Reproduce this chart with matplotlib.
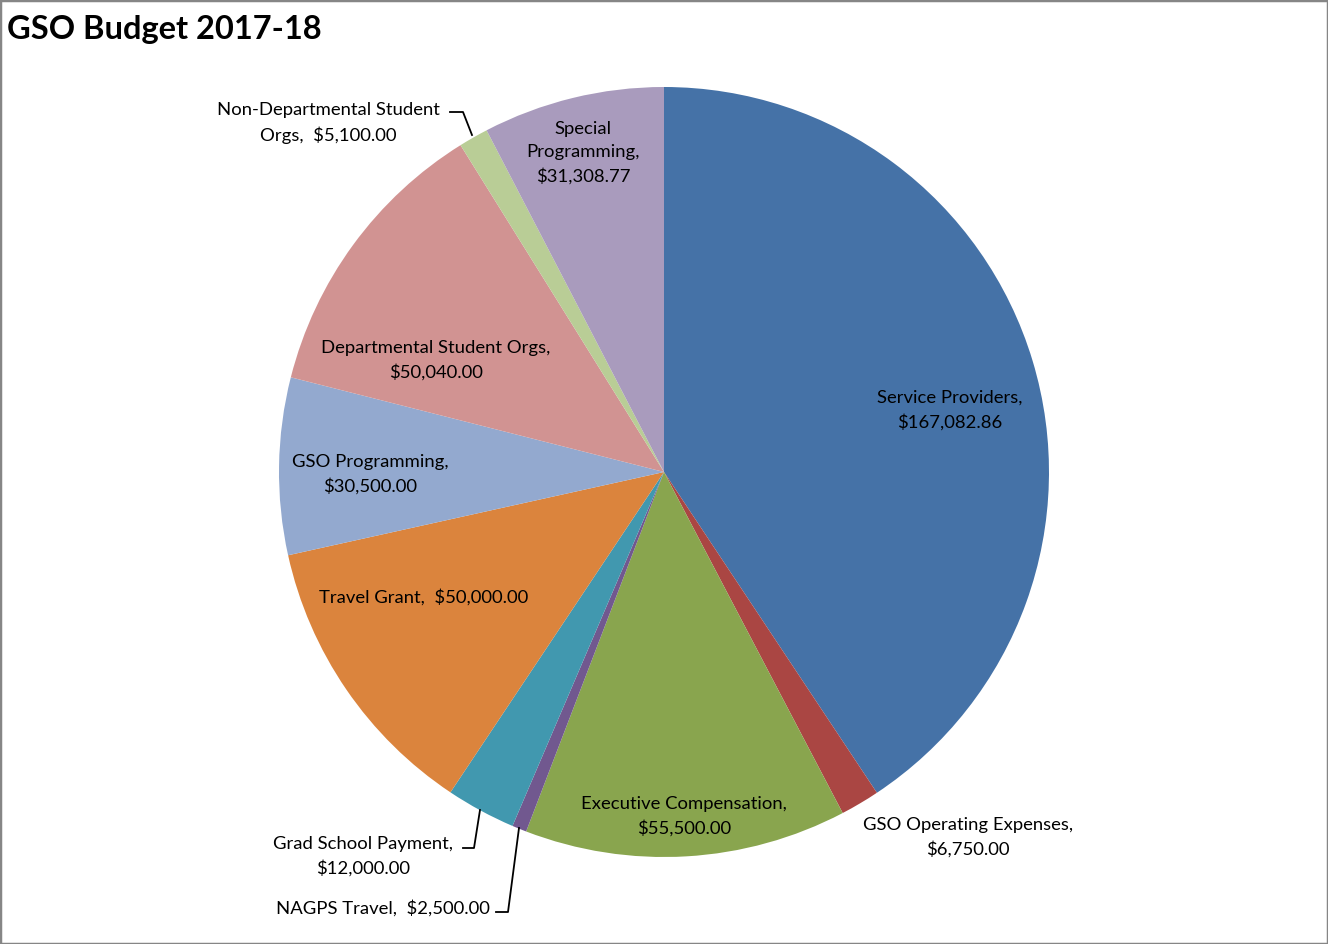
import matplotlib
matplotlib.use("Agg")
import matplotlib.pyplot as plt
from matplotlib.patches import Rectangle

categories = ["Service Providers", "GSO Operating Expenses", "Executive Compensation",
              "NAGPS Travel", "Grad School Payment", "Travel Grant", "GSO Programming",
              "Departmental Student Orgs", "Non-Departmental Student Orgs", "Special Programming"]
values = [167082.86, 6750.00, 55500.00, 2500.00, 12000.00, 50000.00, 30500.00,
          50040.00, 5100.00, 31308.77]
colors = ["#4572A7", "#AA4643", "#89A54E", "#71588F", "#4198AF", "#DB843D",
          "#93A9CF", "#D19392", "#B9CD96", "#A99BBD"]
label_texts = ["Service Providers,\n$167,082.86", "GSO Operating Expenses,\n$6,750.00",
               "Executive Compensation,\n$55,500.00", "NAGPS Travel,  $2,500.00",
               "Grad School Payment,\n$12,000.00", "Travel Grant,  $50,000.00",
               "GSO Programming,\n$30,500.00", "Departmental Student Orgs,\n$50,040.00",
               "Non-Departmental Student\nOrgs,  $5,100.00", "Special\nProgramming,\n$31,308.77"]

W, H = 1328, 944
fig = plt.figure(figsize=(W / 100, H / 100), dpi=100)
ax = fig.add_axes([0, 0, 1, 1])

def py(y):
    return H - y

cx, cy, R = 664, 472, 385
ax.pie(values, colors=colors, startangle=90, counterclock=False,
       center=(cx, py(cy)), radius=R, frame=True,
       wedgeprops=dict(linewidth=0))
ax.set_xlim(0, W)
ax.set_ylim(0, H)
ax.set_aspect("equal")
ax.axis("off")

font = "Lato"
fs = 13.3
ls = 1.55
# label centre positions (pixels)
label_pos = [(950, 410), (968, 837), (684, 816), None, (363, 856), (424, 597),
             (370, 474), (436, 360), (328, 123), (583, 153)]
for txt, pos in zip(label_texts, label_pos):
    if pos is None:
        continue
    ax.text(pos[0], py(pos[1]), txt, ha="center", va="center", fontsize=fs,
            family=font, color="black", linespacing=ls)
# NAGPS label (right aligned) and leader lines
ax.text(490, py(908), label_texts[3], ha="right", va="center", fontsize=fs,
        family=font, color="black")
ax.plot([496, 508, 519], [py(912), py(912), py(828)], color="black", lw=1.3)
ax.plot([463, 474, 480], [py(848), py(848), py(810)], color="black", lw=1.3)
ax.plot([450, 463, 472], [py(112), py(112), py(135)], color="black", lw=1.3)

ax.text(7, py(30), "GSO Budget 2017-18", ha="left", va="center", fontsize=23.5,
        fontweight="bold", family=font, color="black")

fig.patches.append(Rectangle((0, 0), 1, 1, transform=fig.transFigure, fill=False,
                             edgecolor="#868686", linewidth=2.5))
fig.savefig("out.png", dpi=100, facecolor="white")
